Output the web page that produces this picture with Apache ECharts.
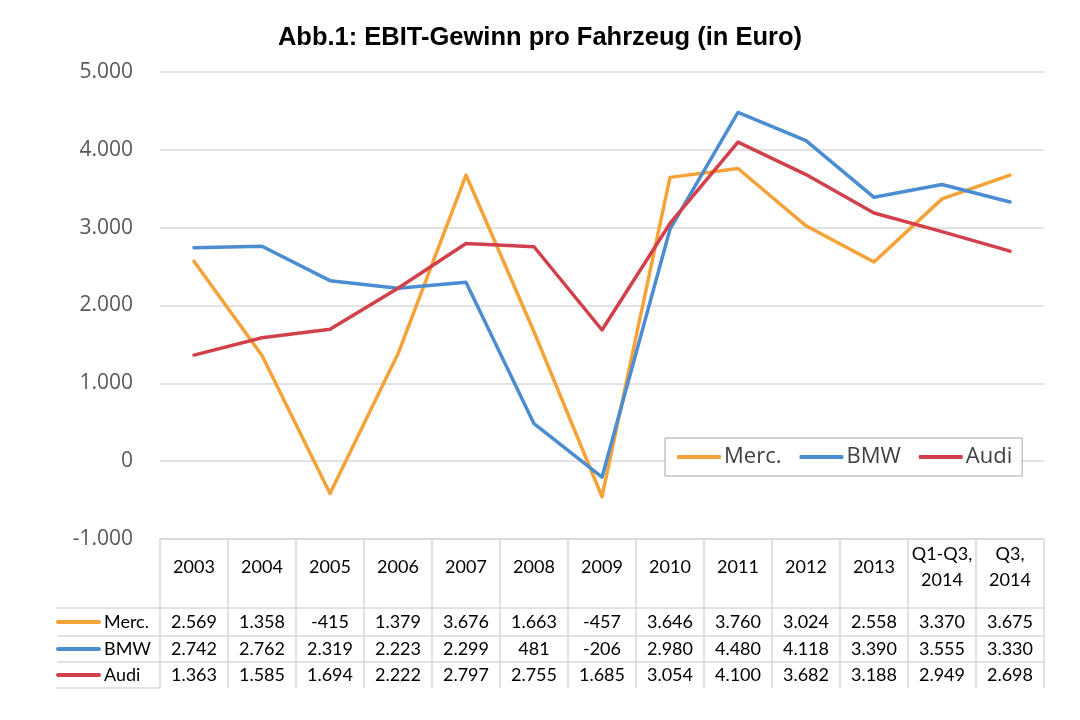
<!DOCTYPE html>
<html>
<head>
<meta charset="utf-8">
<script src="https://cdn.jsdelivr.net/npm/echarts@6/dist/echarts.min.js"></script>
<style>
  html, body { margin: 0; padding: 0; background: #fff; }
  #chart { width: 1080px; height: 720px; }
</style>
</head>
<body>
<div id="chart"></div>
<script>
// Kategorien (Tabellenkopf)
const categories = ['2003', '2004', '2005', '2006', '2007', '2008', '2009', '2010', '2011', '2012', '2013', 'Q1-Q3,\n2014', 'Q3,\n2014'];
// EBIT pro Fahrzeug
const merc = [2569, 1358, -415, 1379, 3676, 1663, -457, 3646, 3760, 3024, 2558, 3370, 3675];
const bmw = [2742, 2762, 2319, 2223, 2299, 481, -206, 2980, 4480, 4118, 3390, 3555, 3330];
const audi = [1363, 1585, 1694, 2222, 2797, 2755, 1685, 3054, 4100, 3682, 3188, 2949, 2698];
const seriesNames = ['Merc.', 'BMW', 'Audi'];
const seriesData = [merc, bmw, audi];
const colors = ['#F5A238', '#4C8DD2', '#D1414B'];

// deutsche Tausenderpunkte
function fmt(v) {
  const s = Math.abs(v).toString().replace(/\B(?=(\d{3})+(?!\d))/g, '.');
  return (v < 0 ? '-' : '') + s;
}

const gridLine = '#d9d9d9';
const tableFont = 'Lato';
const tableSize = 18;
const rowOffsets = [69, 97, 123];   // Zeilenoberkante relativ zur Achse
const rowMargins = [14, 13, 13];

// Werte-Zeilen der Datentabelle als zusätzliche x-Achsen
const valueAxes = seriesData.map((d, i) => ({
  type: 'category',
  data: categories,
  position: 'bottom',
  offset: rowOffsets[i],
  axisLine: { show: true, onZero: false, lineStyle: { color: gridLine, width: 1.5 } },
  axisTick: { show: false },
  axisLabel: {
    interval: 0,
    margin: rowMargins[i],
    verticalAlign: 'middle',
    fontFamily: tableFont,
    fontSize: tableSize,
    color: '#000',
    formatter: (val, idx) => fmt(d[idx])
  }
}));

const rowTop = 539;
const graphic = [];
[608, 636, 662, 688].forEach(y => {
  graphic.push({ type: 'line', shape: { x1: 57, y1: y, x2: 160, y2: y }, style: { stroke: gridLine, lineWidth: 1.5 } });
});
seriesNames.forEach((name, i) => {
  const cy = rowTop + rowOffsets[i] + rowMargins[i];
  graphic.push({ type: 'line', shape: { x1: 58, y1: cy, x2: 99, y2: cy }, style: { stroke: colors[i], lineWidth: 4, lineCap: 'round' } });
  graphic.push({ type: 'text', x: 104, y: cy, style: { text: name, fill: '#000', font: tableSize + 'px ' + tableFont, verticalAlign: 'middle' } });
});

const option = {
  animation: false,
  backgroundColor: '#fff',
  title: {
    text: 'Abb.1: EBIT-Gewinn pro Fahrzeug (in Euro)',
    left: 'center',
    top: 20,
    textStyle: { fontFamily: 'Liberation Sans', fontSize: 25.5, fontWeight: 'bold', color: '#000' }
  },
  legend: {
    data: seriesNames,
    left: 665,
    top: 438,
    padding: [8, 10, 8, 12],
    icon: 'roundRect',
    itemWidth: 44,
    itemHeight: 4,
    itemGap: 18,
    borderColor: '#a6a6a6',
    borderWidth: 1,
    backgroundColor: '#fff',
    textStyle: { fontFamily: 'Open Sans', fontSize: 22, color: '#404040', padding: [0, 0, 0, -2] }
  },
  grid: { left: 160, right: 36, top: 72, bottom: 181 },
  yAxis: {
    type: 'value',
    min: -1000,
    max: 5000,
    interval: 1000,
    axisLine: { show: false },
    axisTick: { show: false },
    splitLine: { lineStyle: { color: gridLine, width: 1.5 } },
    axisLabel: { margin: 27, fontFamily: 'Open Sans', fontSize: 21, color: '#595959', formatter: v => fmt(v) }
  },
  xAxis: [
    {
      type: 'category',
      data: categories,
      position: 'bottom',
      axisLine: { show: true, onZero: false, lineStyle: { color: gridLine, width: 1.5 } },
      axisTick: { show: true, interval: 0, length: 149, lineStyle: { color: gridLine, width: 1.5 } },
      axisLabel: {
        interval: 0,
        margin: 28,
        verticalAlign: 'middle',
        fontFamily: tableFont,
        fontSize: tableSize,
        lineHeight: 26,
        color: '#000'
      }
    },
    ...valueAxes
  ],
  graphic: graphic,
  series: seriesNames.map((name, i) => ({
    name: name,
    type: 'line',
    data: seriesData[i],
    xAxisIndex: 0,
    symbol: 'none',
    color: colors[i],
    lineStyle: { width: 3.5, join: 'round', cap: 'round' }
  }))
};

const myChart = echarts.init(document.getElementById('chart'));
myChart.setOption(option);
window.addEventListener('resize', () => myChart.resize());
</script>
</body>
</html>
